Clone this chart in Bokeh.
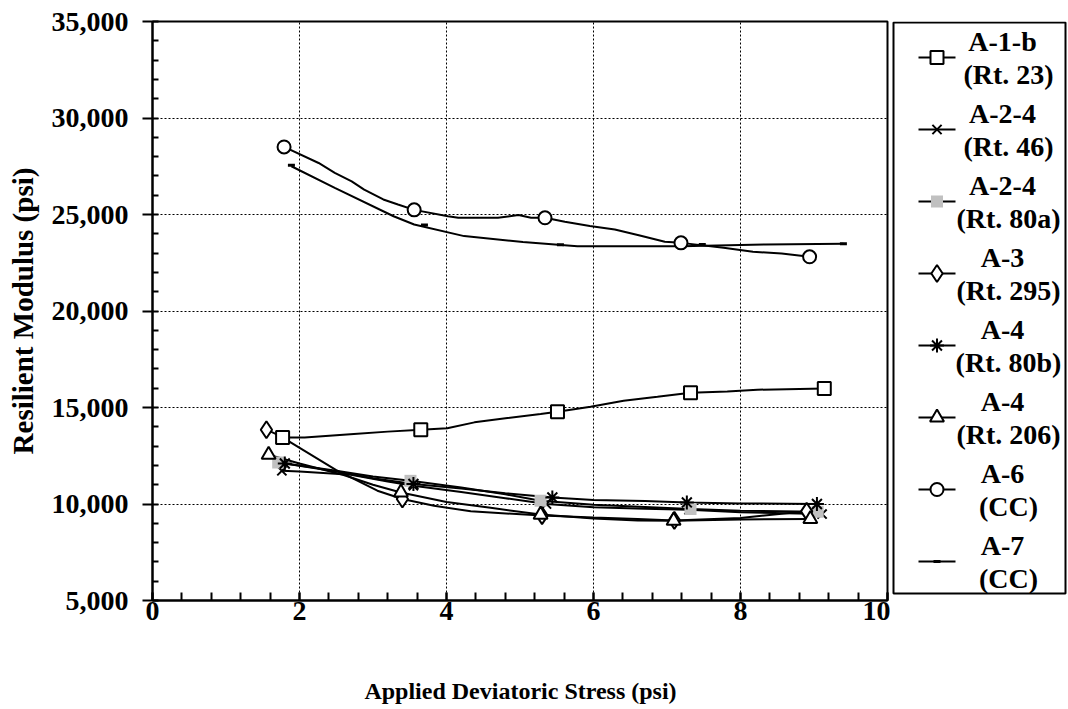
from bokeh.plotting import figure
from bokeh.models import Range1d, NumeralTickFormatter, FixedTicker
from bokeh.layouts import row, column
from bokeh.embed import file_html
from bokeh.resources import INLINE
from bokeh.core.properties import value

FONT = "Liberation Serif"

# ---------------- data ----------------
x_ticks = [0, 2, 4, 6, 8, 10]
y_ticks = [5000, 10000, 15000, 20000, 25000, 30000, 35000]

# A-1-b (Rt. 23)  - squares
a1b_line_x = [1.77, 2.07, 2.74, 3.20, 3.65, 4.01, 4.38, 4.83, 5.28, 5.51, 5.96, 6.41, 6.87, 7.32, 7.82, 8.23, 9.14]
a1b_line_y = [13450, 13450, 13630, 13750, 13850, 13920, 14230, 14450, 14660, 14780, 15040, 15350, 15560, 15770, 15830, 15920, 15990]
a1b_mark_x = [1.77, 3.65, 5.51, 7.32, 9.14]
a1b_mark_y = [13450, 13850, 14780, 15770, 15990]

# A-2-4 (Rt. 46)  - x
a24_46_line_x = [1.76, 2.0, 2.7, 3.2, 3.55, 4.2, 4.8, 5.36, 6.0, 6.7, 7.30, 8.0, 9.11]
a24_46_line_y = [11720, 11690, 11520, 11170, 10950, 10620, 10300, 10000, 9830, 9760, 9700, 9570, 9480]
a24_46_mark_x = [1.76, 3.55, 5.36, 7.30, 9.11]
a24_46_mark_y = [11720, 10950, 10000, 9700, 9480]

# A-2-4 (Rt. 80a) - grey squares
a24_80a_line_x = [1.71, 2.5, 3.0, 3.51, 4.2, 4.8, 5.28, 6.0, 6.7, 7.32, 8.0, 9.05]
a24_80a_line_y = [12150, 11720, 11420, 11200, 10850, 10500, 10170, 9960, 9850, 9740, 9650, 9600]
a24_80a_mark_x = [1.71, 3.51, 5.28, 7.32, 9.05]
a24_80a_mark_y = [12150, 11200, 10170, 9740, 9600]

# A-3 (Rt. 295) - diamonds
a3_line_x = [1.55, 1.75, 1.84, 2.5, 3.06, 3.40, 3.83, 4.33, 5.30, 6.0, 6.6, 7.10, 8.0, 8.90]
a3_line_y = [13850, 13500, 13280, 11750, 10690, 10260, 9910, 9620, 9400, 9300, 9220, 9150, 9280, 9620]
a3_mark_x = [1.55, 3.40, 5.30, 7.10, 8.90]
a3_mark_y = [13850, 10260, 9400, 9150, 9620]

# A-4 (Rt. 80b) - asterisks
a4_80b_line_x = [1.80, 2.5, 3.0, 3.55, 4.2, 4.8, 5.44, 6.0, 6.7, 7.27, 8.0, 9.04]
a4_80b_line_y = [12100, 11680, 11330, 11040, 10800, 10560, 10340, 10210, 10150, 10080, 10030, 10000]
a4_80b_mark_x = [1.80, 3.55, 5.44, 7.27, 9.04]
a4_80b_mark_y = [12100, 11040, 10340, 10080, 10000]

# A-4 (Rt. 206) - triangles
a4_206_line_x = [1.58, 2.0, 2.6, 3.0, 3.38, 4.0, 4.6, 5.28, 6.0, 6.6, 7.09, 8.0, 8.95]
a4_206_line_y = [12550, 12100, 11500, 11000, 10600, 10100, 9800, 9450, 9250, 9150, 9135, 9200, 9220]
a4_206_mark_x = [1.58, 3.38, 5.28, 7.09, 8.95]
a4_206_mark_y = [12550, 10600, 9450, 9135, 9220]

# A-6 (CC) - circles
a6_line_x = [1.79, 2.26, 2.48, 2.71, 2.88, 3.14, 3.34, 3.56, 4.02, 4.16, 4.70, 4.98, 5.15, 5.34,
             5.61, 5.95, 6.29, 6.63, 6.97, 7.19, 7.77, 8.17, 8.56, 8.94]
a6_line_y = [28500, 27670, 27160, 26720, 26290, 25780, 25520, 25240, 24910, 24830, 24830, 24970, 24830, 24830,
             24620, 24400, 24220, 23910, 23590, 23530, 23280, 23070, 22980, 22810]
a6_mark_x = [1.79, 3.56, 5.34, 7.19, 8.94]
a6_mark_y = [28500, 25240, 24830, 23530, 22810]

# A-7 (CC) - small dashes
a7_line_x = [1.89, 2.48, 3.28, 3.56, 4.24, 5.04, 5.78, 7.20, 8.34, 9.40]
a7_line_y = [27500, 26380, 24910, 24480, 23880, 23570, 23360, 23360, 23450, 23480]
a7_mark_x = [1.89, 3.70, 5.55, 7.48, 9.40]
a7_mark_y = [27550, 24450, 23430, 23450, 23480]

legend_top = ["A-1-b", "A-2-4", "A-2-4", "A-3", "A-4", "A-4", "A-6", "A-7"]
legend_bottom = ["(Rt. 23)", "(Rt. 46)", "(Rt. 80a)", "(Rt. 295)", "(Rt. 80b)", "(Rt. 206)", "(CC)", "(CC)"]

x_title = "Applied Deviatoric Stress (psi)"
y_title = "Resilient Modulus (psi)"

# marker styles per series (same order as legend)
styles = [
    dict(marker="square", size=13, fill_color="white", line_color="black", line_width=2),
    dict(marker="x", size=13, fill_color=None, line_color="black", line_width=2),
    dict(marker="square", size=12, fill_color="#c0c0c0", line_color=None, line_width=0),
    dict(marker="diamond", size=17, fill_color="white", line_color="black", line_width=2),
    dict(marker="asterisk", size=14, fill_color=None, line_color="black", line_width=2),
    dict(marker="triangle", size=14, fill_color="white", line_color="black", line_width=2),
    dict(marker="circle", size=13, fill_color="white", line_color="black", line_width=2),
    dict(marker="dash", size=7, fill_color="black", line_color="black", line_width=3),
]

series = [
    (a1b_line_x, a1b_line_y, a1b_mark_x, a1b_mark_y),
    (a24_46_line_x, a24_46_line_y, a24_46_mark_x, a24_46_mark_y),
    (a24_80a_line_x, a24_80a_line_y, a24_80a_mark_x, a24_80a_mark_y),
    (a3_line_x, a3_line_y, a3_mark_x, a3_mark_y),
    (a4_80b_line_x, a4_80b_line_y, a4_80b_mark_x, a4_80b_mark_y),
    (a4_206_line_x, a4_206_line_y, a4_206_mark_x, a4_206_mark_y),
    (a6_line_x, a6_line_y, a6_mark_x, a6_mark_y),
    (a7_line_x, a7_line_y, a7_mark_x, a7_mark_y),
]

TOP_H = 660
FRAME_TOP, FRAME_BOTTOM = 21, 600

# ---------------- main chart ----------------
p = figure(width=890, height=TOP_H, x_range=Range1d(0, 10), y_range=Range1d(5000, 35000),
           output_backend="svg", toolbar_location=None,
           min_border_left=152, min_border_right=3, min_border_top=FRAME_TOP,
           min_border_bottom=TOP_H - FRAME_BOTTOM)
p.outline_line_color = "black"
p.outline_line_width = 2
p.background_fill_color = "white"
p.border_fill_color = "white"

p.xaxis.ticker = FixedTicker(ticks=x_ticks, minor_ticks=[i * 0.4 for i in range(26)])
p.yaxis.ticker = FixedTicker(ticks=y_ticks, minor_ticks=list(range(5000, 35001, 1000)))
p.yaxis.formatter = NumeralTickFormatter(format="0,0")

for ax in (p.xaxis[0], p.yaxis[0]):
    ax.axis_line_width = 2
    ax.axis_line_color = "black"
    ax.major_tick_line_width = 2
    ax.minor_tick_line_width = 2
    ax.major_tick_line_color = "black"
    ax.minor_tick_line_color = "black"
    ax.major_label_text_font = FONT
    ax.major_label_text_font_style = "bold"
    ax.major_label_text_font_size = "28px"
    ax.major_label_text_color = "black"
    ax.axis_label_text_font = FONT
    ax.axis_label_text_font_style = "bold"
    ax.axis_label_text_color = "black"

p.xaxis.major_tick_in = 8
p.xaxis.major_tick_out = 0
p.xaxis.minor_tick_in = 8
p.xaxis.minor_tick_out = 0
p.xaxis.major_label_standoff = 1

p.yaxis.major_tick_in = 0
p.yaxis.major_tick_out = 10
p.yaxis.minor_tick_in = 6
p.yaxis.minor_tick_out = 0
p.yaxis.major_label_standoff = 14
p.yaxis.axis_label = y_title
p.yaxis.axis_label_text_font_size = "29px"
p.yaxis.axis_label_standoff = 10

p.xgrid.ticker = FixedTicker(ticks=[2, 4, 6, 8])
p.ygrid.ticker = FixedTicker(ticks=[10000, 15000, 20000, 25000, 30000])
for g in (p.xgrid[0], p.ygrid[0]):
    g.grid_line_color = "black"
    g.grid_line_width = 1
    g.grid_line_dash = "2 2"

for (lx, ly, mx, my), st in zip(series, styles):
    p.line(lx, ly, line_color="black", line_width=2)
for (lx, ly, mx, my), st in zip(series, styles):
    p.scatter(mx, my, **st)

# ---------------- legend (page-pixel coordinates) ----------------
leg = figure(width=178, height=TOP_H, x_range=Range1d(890, 1068), y_range=Range1d(FRAME_BOTTOM, FRAME_TOP),
             output_backend="svg", toolbar_location=None,
             x_axis_location=None, y_axis_location=None,
             min_border_left=0, min_border_right=0, min_border_top=FRAME_TOP,
             min_border_bottom=TOP_H - FRAME_BOTTOM)
leg.grid.visible = False
leg.outline_line_color = None
leg.background_fill_color = "white"
leg.border_fill_color = "white"

leg.quad(left=[893], right=[1065], top=[22], bottom=[593], fill_color=None,
         line_color="black", line_width=2)

entry_y = [57 + 72 * i for i in range(len(legend_top))]
for yy, st in zip(entry_y, styles):
    leg.segment(x0=[918], y0=[yy], x1=[955], y1=[yy], line_color="black", line_width=2)
    leg.scatter([936.5], [yy], **st)
leg.text(x=[1002] * len(legend_top), y=[yy - 16 for yy in entry_y], text=legend_top,
         text_align="center", text_baseline="middle", text_font=value(FONT),
         text_font_style="bold", text_font_size="28px", text_color="black")
leg.text(x=[1008] * len(legend_bottom), y=[yy + 17 for yy in entry_y], text=legend_bottom,
         text_align="center", text_baseline="middle", text_font=value(FONT),
         text_font_style="bold", text_font_size="28px", text_color="black")

# ---------------- x-axis title strip ----------------
T_H = 709 - TOP_H
tfig = figure(width=1068, height=T_H, x_range=Range1d(0, 1068), y_range=Range1d(T_H, 0),
              output_backend="svg", toolbar_location=None,
              x_axis_location=None, y_axis_location=None,
              min_border_left=0, min_border_right=0, min_border_top=0, min_border_bottom=0)
tfig.grid.visible = False
tfig.outline_line_color = None
tfig.background_fill_color = "white"
tfig.border_fill_color = "white"
tfig.text(x=[520], y=[690 - TOP_H], text=[x_title], text_align="center", text_baseline="middle",
          text_font=value(FONT), text_font_style="bold", text_font_size="24px", text_color="black")

layout = column(row(p, leg), tfig)
open("out.html", "w").write(file_html(layout, INLINE))
